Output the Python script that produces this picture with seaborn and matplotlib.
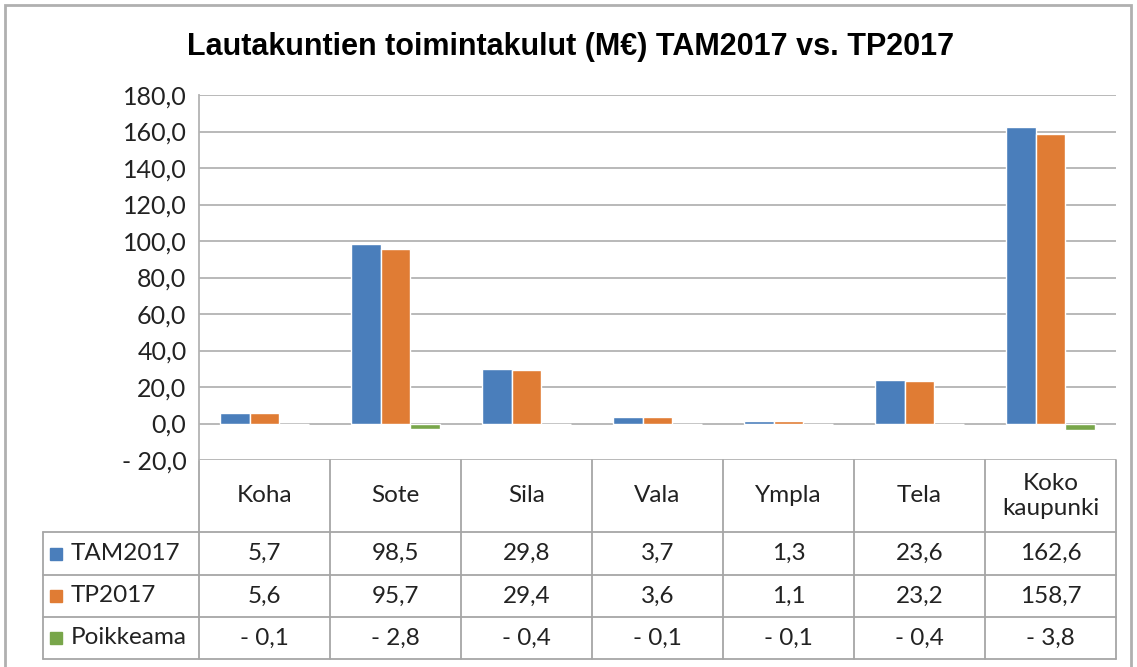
import matplotlib.pyplot as plt
import matplotlib.ticker as mticker
from matplotlib.lines import Line2D
from matplotlib.patches import Rectangle
import seaborn as sns
import pandas as pd

# data
categories = ["Koha", "Sote", "Sila", "Vala", "Ympla", "Tela", "Koko\nkaupunki"]
series = ["TAM2017", "TP2017", "Poikkeama"]
tam2017 = [5.7, 98.5, 29.8, 3.7, 1.3, 23.6, 162.6]
tp2017 = [5.6, 95.7, 29.4, 3.6, 1.1, 23.2, 158.7]
poikkeama = [-0.1, -2.8, -0.4, -0.1, -0.1, -0.4, -3.8]
colors = ["#4A7EBB", "#E07C34", "#78A64A"]

values = {"TAM2017": tam2017, "TP2017": tp2017, "Poikkeama": poikkeama}
df = pd.DataFrame(
    [(c, s, v) for s in series for c, v in zip(categories, values[s])],
    columns=["lautakunta", "sarja", "arvo"],
)

sns.set_style("white")
plt.rcParams["font.family"] = ["Lato", "DejaVu Sans"]

W, H = 1137, 667
fig = plt.figure(figsize=(W / 100, H / 100), dpi=100)
fig.patch.set_facecolor("white")

# plot area in pixels: x 199..1116, y 95..460
L, R, T, B = 199, 1116, 95, 460
ax = fig.add_axes([L / W, 1 - B / H, (R - L) / W, (B - T) / H])

sns.barplot(
    data=df, x="lautakunta", y="arvo", hue="sarja", hue_order=series,
    palette=colors, width=0.68, saturation=1, legend=False, ax=ax,
)
ax.set_ylim(-20, 180)
ax.set_xlim(-0.5, len(categories) - 0.5)
ax.yaxis.set_major_locator(mticker.MultipleLocator(20))


def fmt(v, pos=None):
    s = f"{abs(v):.1f}".replace(".", ",")
    return f"- {s}" if v < -1e-9 else s


ax.yaxis.set_major_formatter(mticker.FuncFormatter(fmt))
ax.tick_params(axis="y", labelsize=18, colors="#222222", length=0, pad=9)
ax.set_xticks([])
ax.set_xlabel("")
ax.set_ylabel("")
ax.grid(axis="y", color="#B3B3B3", linewidth=1.3)
ax.set_axisbelow(True)
for side in ["top", "right", "bottom"]:
    ax.spines[side].set_visible(False)
ax.spines["left"].set_color("#B3B3B3")
ax.spines["left"].set_linewidth(1.3)

# data table below the plot
def ay(py):
    return (B - py) / (B - T)


def axx(px):
    return (px - L) / (R - L)


row_y = [460, 532, 575, 617, 659]
line_kw = dict(color="#A6A6A6", linewidth=1.3, clip_on=False)
tr = ax.get_xaxis_transform()
n = len(categories)
for i in range(n + 1):
    ax.add_line(Line2D([i - 0.5, i - 0.5], [ay(row_y[0]), ay(row_y[-1])], transform=tr, **line_kw))
for py in row_y[1:]:
    ax.add_line(Line2D([axx(43), 1], [ay(py), ay(py)], transform=ax.transAxes, **line_kw))
ax.add_line(Line2D([axx(43), axx(43)], [ay(row_y[1]), ay(row_y[-1])], transform=ax.transAxes, **line_kw))

for i, c in enumerate(categories):
    ax.text(i, ay((row_y[0] + row_y[1]) / 2), c, transform=tr, ha="center", va="center",
            fontsize=17.5, color="#222222", linespacing=1.2)

for r, s in enumerate(series):
    yc = ay((row_y[r + 1] + row_y[r + 2]) / 2)
    for i, v in enumerate(values[s]):
        ax.text(i, yc, fmt(v), transform=tr, ha="center", va="center",
                fontsize=17.5, color="#222222")
    ax.add_patch(Rectangle((axx(50), yc - 6 / (B - T)), 12 / (R - L), 12 / (B - T),
                           transform=ax.transAxes, color=colors[r], clip_on=False))
    ax.text(axx(71), yc, s, transform=ax.transAxes, ha="left", va="center",
            fontsize=17.5, color="#222222")

# title
fig.text(571 / W, 1 - 47 / H, "Lautakuntien toimintakulut (M€) TAM2017 vs. TP2017",
         ha="center", va="center", fontsize=22, fontweight="bold",
         family=["Liberation Sans", "DejaVu Sans"], color="black")

# chart frame
fig.add_artist(Rectangle((5 / W, -0.05), (W - 11) / W, 1 - 5 / H + 0.05,
                         transform=fig.transFigure, fill=False,
                         edgecolor="#B0B0B0", linewidth=2))

fig.savefig("out.png", dpi=100)
